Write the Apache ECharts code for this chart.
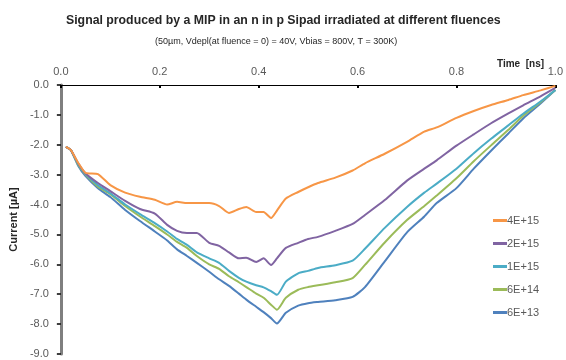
<!DOCTYPE html>
<html>
<head>
<meta charset="utf-8">
<script src="https://cdn.jsdelivr.net/npm/echarts@6/dist/echarts.min.js"></script>
<style>
  html, body { margin: 0; padding: 0; background: #fff; }
  #chart { width: 566px; height: 360px; }
</style>
</head>
<body>
<div id="chart"></div>
<script>
// Time samples [ns]
const time = [0.01, 0.02, 0.035, 0.05, 0.075, 0.1, 0.13, 0.16, 0.19, 0.215, 0.235, 0.255, 0.275, 0.3, 0.32, 0.34, 0.36, 0.375, 0.395, 0.41, 0.425, 0.437, 0.455, 0.48, 0.5, 0.52, 0.555, 0.59, 0.615, 0.655, 0.7, 0.735, 0.76, 0.8, 0.835, 0.87, 0.905, 0.935, 0.97, 1.0];

// Induced current [µA] for each fluence
const f4e15 = [-2.07, -2.17, -2.6, -2.94, -2.98, -3.35, -3.6, -3.74, -3.84, -4.0, -3.91, -3.95, -3.95, -3.95, -4.05, -4.28, -4.15, -4.08, -4.25, -4.25, -4.45, -4.2, -3.8, -3.58, -3.42, -3.28, -3.1, -2.86, -2.62, -2.3, -1.9, -1.56, -1.42, -1.1, -0.87, -0.67, -0.5, -0.34, -0.18, -0.03];
const f2e15 = [-2.07, -2.17, -2.62, -2.96, -3.28, -3.55, -3.88, -4.15, -4.3, -4.68, -4.88, -4.95, -4.95, -5.28, -5.38, -5.6, -5.8, -5.78, -5.92, -5.8, -6.02, -5.8, -5.45, -5.28, -5.15, -5.08, -4.88, -4.65, -4.35, -3.85, -3.2, -2.8, -2.52, -2.03, -1.65, -1.28, -0.95, -0.68, -0.38, -0.1];
const f1e15 = [-2.07, -2.17, -2.65, -2.98, -3.35, -3.62, -4.0, -4.32, -4.62, -4.9, -5.15, -5.35, -5.6, -5.8, -5.95, -6.22, -6.45, -6.58, -6.7, -6.77, -6.9, -7.02, -6.58, -6.3, -6.22, -6.12, -6.03, -5.88, -5.48, -4.78, -4.08, -3.6, -3.3, -2.8, -2.28, -1.8, -1.35, -0.96, -0.55, -0.17];
const f6e14 = [-2.07, -2.17, -2.67, -3.0, -3.4, -3.65, -4.05, -4.4, -4.72, -5.0, -5.25, -5.45, -5.72, -6.0, -6.15, -6.4, -6.6, -6.76, -6.98, -7.12, -7.35, -7.52, -7.12, -6.85, -6.76, -6.7, -6.6, -6.46, -6.02, -5.27, -4.52, -4.05, -3.7, -3.12, -2.55, -2.02, -1.5, -1.03, -0.58, -0.17];
const f6e13 = [-2.07, -2.17, -2.7, -3.05, -3.45, -3.75, -4.18, -4.55, -4.9, -5.2, -5.5, -5.72, -5.95, -6.25, -6.5, -6.72, -6.98, -7.18, -7.42, -7.6, -7.8, -7.98, -7.62, -7.38, -7.3, -7.26, -7.2, -7.09, -6.76, -5.9, -4.93, -4.4, -3.95, -3.45, -2.8, -2.2, -1.62, -1.12, -0.62, -0.17];

const seriesNames = ['4E+15', '2E+15', '1E+15', '6E+14', '6E+13'];
const seriesValues = [f4e15, f2e15, f1e15, f6e14, f6e13];
const seriesColors = ['#F79646', '#8064A2', '#4BACC6', '#9BBB59', '#4F81BD'];

const textColor = '#595959';
const font = 'Liberation Sans';

const chart = echarts.init(document.getElementById('chart'), null, { renderer: 'canvas' });

chart.setOption({
  backgroundColor: '#ffffff',
  animation: false,
  textStyle: { fontFamily: font },
  title: [
    {
      text: 'Signal produced by a MIP in an n in p Sipad irradiated at different fluences',
      left: 61,
      top: 10,
      textStyle: { fontSize: 12.3, fontWeight: 'bold', color: '#262626', fontFamily: font }
    },
    {
      text: '(50µm, Vdepl(at fluence = 0) = 40V, Vbias = 800V, T = 300K)',
      left: 150,
      top: 32,
      textStyle: { fontSize: 9, fontWeight: 'normal', color: '#262626', fontFamily: font }
    }
  ],
  graphic: [
    {
      type: 'text',
      left: 497,
      top: 59,
      style: { text: 'Time  [ns]', fontSize: 10, fontWeight: 'bold', fill: '#262626', fontFamily: font }
    }
  ],
  legend: {
    orient: 'vertical',
    left: 488,
    top: 210,
    itemWidth: 14,
    itemHeight: 3,
    itemGap: 12,
    icon: 'rect',
    data: seriesNames.map((n, i) => ({ name: n, itemStyle: { color: seriesColors[i] } })),
    textStyle: { fontSize: 11, color: textColor, fontFamily: font, padding: [0, 0, 0, -5] },
    itemStyle: { borderWidth: 0 }
  },
  grid: { left: 57, right: 4, top: 85, bottom: 6, containLabel: false },
  xAxis: {
    type: 'value',
    position: 'top',
    min: 0,
    max: 1,
    interval: 0.2,
    axisLine: { show: true, onZero: false, lineStyle: { color: '#000', width: 1 } },
    axisTick: { show: true, inside: true, length: 3, lineStyle: { color: '#000', width: 2 } },
    axisLabel: { fontSize: 11, color: textColor, margin: 8, formatter: v => v.toFixed(1) },
    splitLine: { show: false }
  },
  yAxis: {
    type: 'value',
    min: -9,
    max: 0,
    interval: 1,
    name: 'Current [µA]',
    nameLocation: 'middle',
    nameGap: 39,
    nameTextStyle: { fontSize: 11, fontWeight: 'bold', color: '#262626', fontFamily: font },
    axisLine: { show: true, onZero: false, lineStyle: { color: '#7f7f7f', width: 3 } },
    axisTick: { show: true, length: 4, lineStyle: { color: '#000', width: 1.5 } },
    axisLabel: { fontSize: 11, color: textColor, margin: 12, formatter: v => v.toFixed(1) },
    splitLine: { show: false }
  },
  series: seriesNames.map((name, i) => ({
    name: name,
    type: 'line',
    data: time.map((t, k) => [t, seriesValues[i][k]]),
    showSymbol: false,
    symbol: 'none',
    smooth: 0.2,
    lineStyle: { color: seriesColors[i], width: 2 },
    itemStyle: { color: seriesColors[i] },
    z: 10 - i
  }))
});
</script>
</body>
</html>
